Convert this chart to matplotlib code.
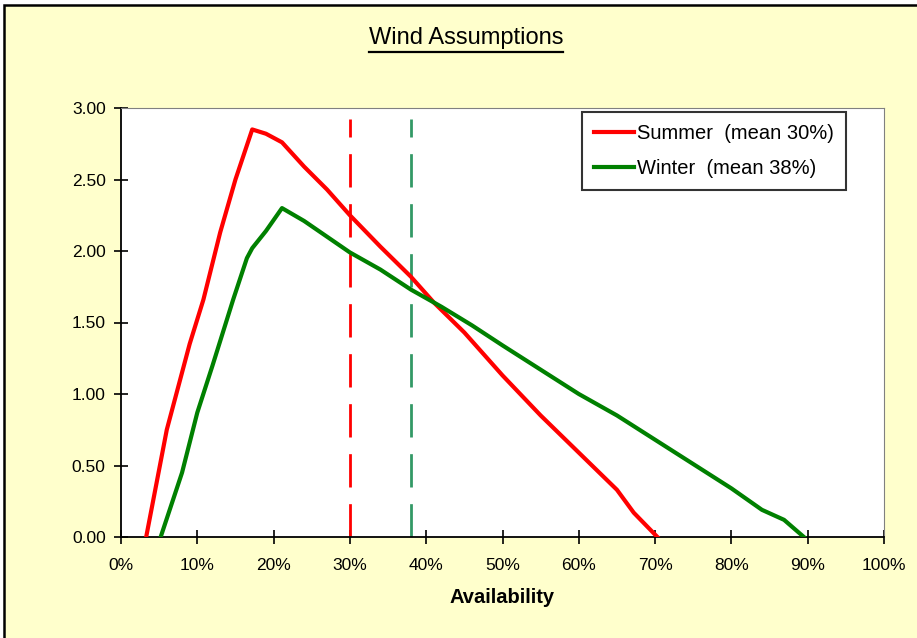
import matplotlib
matplotlib.use('Agg')
from matplotlib import pyplot as plt
from matplotlib.lines import Line2D
from matplotlib.patches import Rectangle
from matplotlib.ticker import FuncFormatter, MultipleLocator

plt.rcParams['font.family'] = ['Liberation Sans', 'DejaVu Sans']

# availability (fraction) vs. probability density
summer_x = [0.033, 0.06, 0.09, 0.108, 0.13, 0.15, 0.172, 0.19, 0.211, 0.24, 0.27, 0.30,
            0.34, 0.38, 0.41, 0.45, 0.50, 0.55, 0.60, 0.65, 0.672, 0.703]
summer_y = [0.0, 0.75, 1.35, 1.66, 2.13, 2.50, 2.85, 2.82, 2.76, 2.59, 2.43, 2.25,
            2.03, 1.82, 1.64, 1.43, 1.13, 0.85, 0.59, 0.33, 0.17, 0.0]
winter_x = [0.052, 0.08, 0.10, 0.12, 0.147, 0.165, 0.172, 0.19, 0.211, 0.24, 0.27, 0.30,
            0.34, 0.38, 0.42, 0.46, 0.50, 0.55, 0.60, 0.65, 0.70, 0.75, 0.80, 0.84, 0.869, 0.895]
winter_y = [0.0, 0.45, 0.87, 1.20, 1.66, 1.95, 2.02, 2.14, 2.30, 2.21, 2.10, 1.99,
            1.87, 1.73, 1.61, 1.48, 1.34, 1.17, 1.00, 0.85, 0.68, 0.51, 0.34, 0.19, 0.12, 0.0]
summer_mean = 0.30
winter_mean = 0.38

fig = plt.figure(figsize=(9.17, 6.38), dpi=100)
fig.patch.set_facecolor('white')
fig.patches.append(Rectangle((4 / 917, -0.1), 1.1, 1.1 - 5 / 638, transform=fig.transFigure,
                             facecolor='#FFFFCC', edgecolor='black', linewidth=1.8, zorder=-10))

ax = fig.add_axes([121 / 917, 101 / 638, 763 / 917, 429 / 638])
ax.set_facecolor('white')

ax.plot(summer_x, summer_y, color='#FF0000', linewidth=3, label='Summer  (mean 30%)', zorder=3)
ax.plot(winter_x, winter_y, color='#008000', linewidth=3, label='Winter  (mean 38%)', zorder=3)
ax.plot([summer_mean, summer_mean], [0, 2.92], color='#FF0000', linewidth=2,
        dashes=(12, 6), zorder=2)
ax.plot([winter_mean, winter_mean], [0, 2.92], color='#339966', linewidth=2,
        dashes=(12, 6), zorder=2)

ax.set_xlim(0, 1)
ax.set_ylim(0, 3)
ax.xaxis.set_major_locator(MultipleLocator(0.1))
ax.yaxis.set_major_locator(MultipleLocator(0.5))
ax.xaxis.set_major_formatter(FuncFormatter(lambda v, p: '%d%%' % round(v * 100)))
ax.yaxis.set_major_formatter(FuncFormatter(lambda v, p: '%.2f' % v))
ax.tick_params(direction='inout', length=10, width=1.2, labelsize=12.5, colors='black', pad=6)
ax.tick_params(axis='x', pad=10)

for side in ['top', 'right']:
    ax.spines[side].set_color('#808080')
for side in ['left', 'bottom']:
    ax.spines[side].set_color('black')
    ax.spines[side].set_linewidth(1.3)

ax.set_xlabel('Availability', fontsize=14.5, fontweight='bold', labelpad=11)

leg = ax.legend(loc='upper right', bbox_to_anchor=(0.95, 0.991), borderaxespad=0,
                fontsize=14.5, frameon=True, fancybox=False, handlelength=2.0,
                handletextpad=0.15, borderpad=0.6, labelspacing=0.8)
leg.get_frame().set_edgecolor('black')
leg.get_frame().set_linewidth(1.5)

title = fig.text(0.508, 0.94, 'Wind Assumptions', ha='center', va='center', fontsize=17)
fig.canvas.draw()
bb = title.get_window_extent().transformed(fig.transFigure.inverted())
fig.add_artist(Line2D([bb.x0, bb.x1], [bb.y0 - 0.005, bb.y0 - 0.005],
                      transform=fig.transFigure, color='black', linewidth=1.6))

fig.savefig('out.png', dpi=100, facecolor=fig.get_facecolor())
